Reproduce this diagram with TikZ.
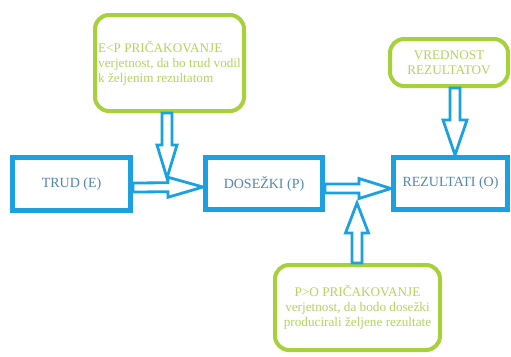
\documentclass[tikz,border=0pt]{standalone}
\usepackage{fontspec}
\setmainfont{Liberation Serif}
\usetikzlibrary{calc}
\definecolor{bblue}{RGB}{27,161,226}
\definecolor{lgreen}{RGB}{166,209,56}
\definecolor{btext}{RGB}{80,135,175}
\definecolor{gtext}{RGB}{178,212,96}
\tikzset{
  bluebox/.style={draw=bblue, line width=5pt, text=btext, inner sep=0pt,
    font=\fontsize{14}{16}\selectfont},
  greenbox/.style={draw=lgreen, line width=4pt, rounded corners=14pt, text=gtext,
    inner sep=2pt, font=\fontsize{13.2}{15}\selectfont},
  blockarrow/.style={draw=bblue, line width=2.8pt, line join=miter},
}
% from, to, shaft half width, head length, head half width
\newcommand\blockarr[5]{%
  \coordinate (hb) at ($(#2)!#4!(#1)$);
  \draw[blockarrow] ($(#1)!#3!90:(#2)$) -- ($(hb)!#3!90:(#2)$) -- ($(hb)!#5!90:(#2)$)
    -- (#2) -- ($(hb)!#5!-90:(#2)$) -- ($(hb)!#3!-90:(#2)$) -- ($(#1)!#3!-90:(#2)$) -- cycle;
}
\begin{document}
\begin{tikzpicture}[x=1pt,y=-1pt]
\useasboundingbox (0,0) rectangle (511,356);
\fill[white] (0,0) rectangle (511,356);

\node[bluebox, minimum width=118pt, minimum height=53pt] (trud) at (71.5,184) {TRUD (E)};
\node[bluebox, minimum width=117pt, minimum height=52pt] (dos) at (264,183.5) {DOSEŽKI (P)};
\node[bluebox, minimum width=114pt, minimum height=52pt] (rez) at (450.5,183.5) {REZULTATI (O)};

\node[greenbox, minimum width=149pt, minimum height=96pt, align=left] (g1) at (169.5,63)
  {E<P PRIČAKOVANJE\\verjetnost, da bo trud vodil\\k željenim rezultatom};
\node[greenbox, minimum width=118pt, minimum height=47pt, align=center] (g2) at (449,62.5)
  {VREDNOST\\REZULTATOV};
\node[greenbox, minimum width=165pt, minimum height=85pt, align=center] (g3) at (357.5,307.5)
  {P>O PRIČAKOVANJE\\verjetnost, da bodo dosežki\\producirali željene rezultate};

\coordinate (t1) at (167,178);
\coordinate (t4) at (357,203);
\coordinate (t5) at ($(rez.north)+(4.5,0)$);

\blockarr{$(trud.east)+(0,3.5)$}{$(dos.west)+(0,3.5)$}{4.5pt}{35pt}{10pt}
\blockarr{$(dos.east)+(0,5)$}{$(rez.west)+(0,5)$}{4.5pt}{32pt}{10pt}
\blockarr{g1.south -| t1}{t1}{5pt}{33pt}{10pt}
\blockarr{g3.north -| t4}{t4}{5pt}{30pt}{11.5pt}
\blockarr{g2.south -| t5}{t5}{5pt}{35pt}{12pt}
\end{tikzpicture}
\end{document}
